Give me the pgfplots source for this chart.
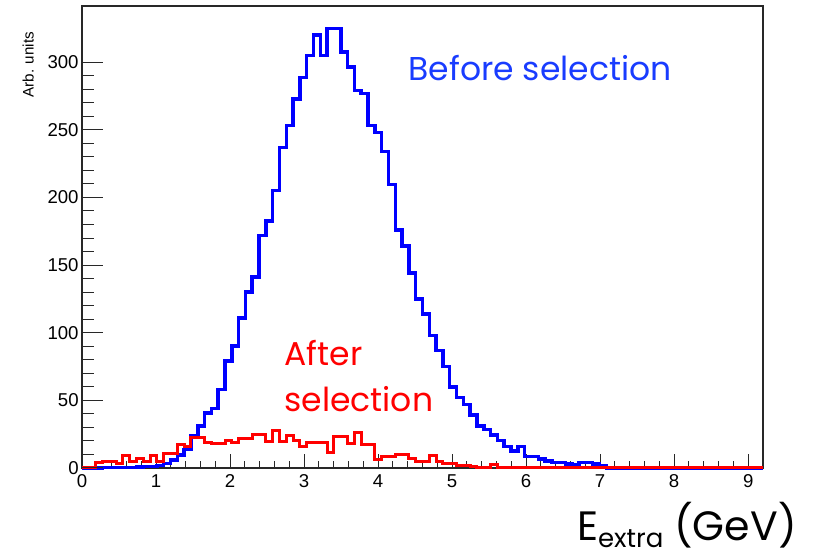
\documentclass[border=0pt]{standalone}
\usepackage{fontspec}
\usepackage{pgfplots}
\usepackage{pgfplotstable}
\pgfplotsset{compat=1.18}
\setmainfont{Liberation Sans}
\newfontfamily\annfont{Poppins}

\definecolor{histblue}{RGB}{0,0,255}
\definecolor{histred}{RGB}{255,0,0}
\definecolor{textblue}{RGB}{25,60,255}
\definecolor{framegray}{RGB}{40,40,40}

% E_extra histograms: bin left edge, entries before and after the selection
\pgfplotstableread{
x      before  after
0      0       0
0.092  0       0
0.184  0       4
0.276  0.3     5
0.368  0.3     5
0.46   0.5     3
0.552  0.5     9
0.644  0.5     5
0.736  0.8     7
0.828  1       5
0.92   1       9
1.012  2       5
1.104  3.5     11
1.196  6       11
1.288  9.6     17
1.38   13.8    16
1.472  24      22.5
1.564  31      22.5
1.656  40.5    19
1.748  44      18
1.84   58      18
1.932  79      20
2.024  90      19
2.116  111     22
2.208  130     22
2.3    141     24.4
2.392  172     24.4
2.484  182.5   19.5
2.576  205     27.6
2.668  237     19.5
2.76   253     24
2.852  272.6   20
2.944  288.7   15.8
3.036  305     18.5
3.128  320     18.5
3.22   305     18.5
3.312  325     11.4
3.404  325     23
3.496  307.6   23
3.588  296.5   18
3.68   279     26
3.772  277     17.5
3.864  253     17.5
3.956  248     6
4.048  234     8.6
4.14   209.6   8.6
4.232  176     10
4.324  164     10
4.416  144     7
4.508  125     4.5
4.6    114     4.5
4.692  98      9
4.784  87      5
4.876  75      3
4.968  60      3
5.06   52      1.5
5.152  47      1.5
5.244  39      1
5.336  31      0
5.428  28.6    0
5.52   24.4    2.5
5.612  20.5    0
5.704  15.8    0
5.796  12.7    0
5.888  15.8    0
5.98   8.4     0
6.072  8.4     0
6.164  6.7     0
6.256  5.2     0
6.348  4       0
6.44   4       0
6.532  3       0
6.624  2.2     0
6.716  4       0
6.808  4       0
6.9    3       0
6.992  1.5     0
7.084  0       0
9.2    0       0
}\histdata

\pgfplotsset{
  frame/.style={
    width=340.5pt, height=231pt, scale only axis,
    xmin=0, xmax=9.2, ymin=0, ymax=341.5,
    at={(0,0)}, anchor=south west,
    tick align=inside, tick pos=left,
  },
}

\begin{document}
\begin{tikzpicture}
\useasboundingbox (-41pt,-43.5pt) rectangle (365.5pt,234pt);

\begin{axis}[
  frame,
  clip=false,
  axis line style={framegray, line width=0.6pt},
  xtick={0,1,...,9}, minor x tick num=4,
  ytick={0,50,...,300}, minor y tick num=4,
  major tick length=6.8pt, minor tick length=3.5pt,
  every tick/.style={framegray, line width=0.5pt},
  tick label style={font=\fontsize{9.3}{10}\selectfont, inner sep=0pt},
  /pgf/number format/assume math mode=true,
  xticklabel style={yshift=-3pt},
  yticklabel style={xshift=-1.5pt},
]
\addplot[const plot mark left, histblue, line width=1.75pt, line join=miter]
  table[x=x, y=before] {\histdata};
\addplot[const plot mark left, histred, line width=1.5pt, line join=miter]
  table[x=x, y=after] {\histdata};

\node[rotate=90, anchor=east, font=\fontsize{7.6}{8}\selectfont]
  at (axis description cs:-0.079,0.959) {Arb. units};

\node[anchor=base, text=textblue, font=\annfont\fontsize{16.5}{18}\selectfont]
  at (axis cs:6.19,286.7) {Before selection};
\node[anchor=base west, text=histred, font=\annfont\fontsize{16.5}{18}\selectfont]
  at (axis cs:2.64,75.5) {After};
\node[anchor=base west, text=histred, font=\annfont\fontsize{16.5}{18}\selectfont]
  at (axis cs:2.64,41.5) {selection};

\node[anchor=base east, inner sep=0pt, font=\annfont\fontsize{20.5}{22}\selectfont]
  at (axis description cs:1.05,-0.158)
  {E\raisebox{-0.15em}{\fontsize{13}{13}\selectfont extra} (GeV)};
\end{axis}

% longer inward ticks on the vertical axis
\begin{axis}[
  frame,
  axis line style={draw=none},
  xtick=\empty,
  ytick={0,50,...,300}, minor y tick num=4,
  yticklabels={},
  major tick length=10.3pt, minor tick length=5.8pt,
  every tick/.style={framegray, line width=0.5pt},
]
\end{axis}
\end{tikzpicture}
\end{document}
